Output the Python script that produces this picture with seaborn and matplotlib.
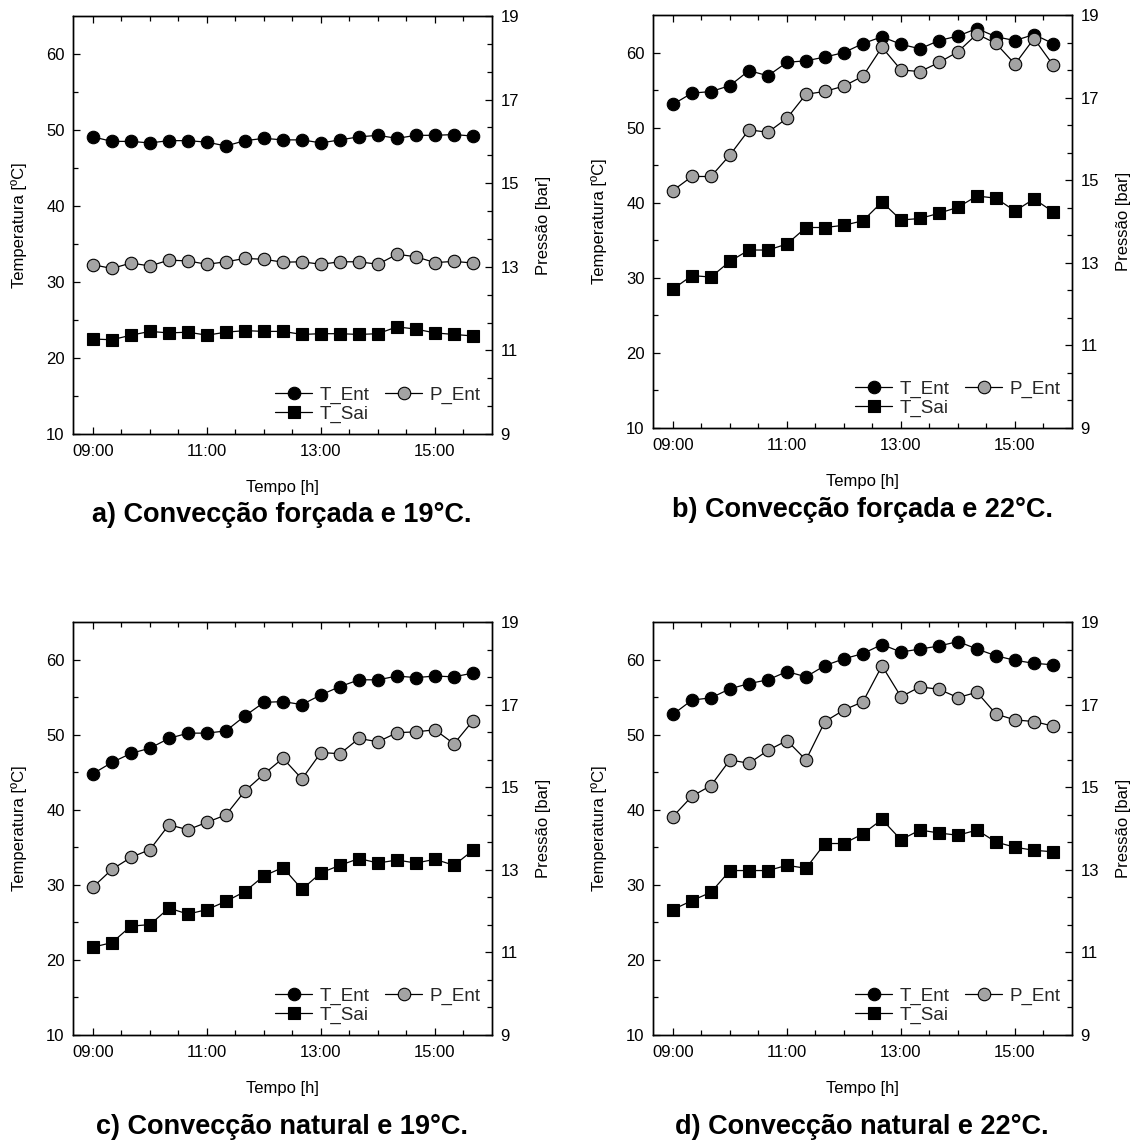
import matplotlib
matplotlib.use("Agg")
import matplotlib.pyplot as plt
import seaborn as sns
import pandas as pd
from matplotlib.ticker import FixedLocator, FuncFormatter

# ---------------- data ----------------
horarios = ["09:00", "09:20", "09:40", "10:00", "10:20", "10:40", "11:00",
            "11:20", "11:40", "12:00", "12:20", "12:40", "13:00", "13:20",
            "13:40", "14:00", "14:20", "14:40", "15:00", "15:20", "15:40"]

a_T_Ent = [49.1, 48.5, 48.5, 48.3, 48.6, 48.6, 48.4, 47.9, 48.6, 48.9, 48.7,
           48.7, 48.3, 48.7, 49.1, 49.3, 48.9, 49.3, 49.3, 49.4, 49.2]
a_T_Sai = [22.5, 22.4, 23.0, 23.5, 23.3, 23.4, 23.0, 23.4, 23.6, 23.5, 23.5,
           23.1, 23.2, 23.2, 23.1, 23.2, 24.1, 23.8, 23.3, 23.1, 22.9]
a_P_Ent = [13.05, 12.96, 13.09, 13.02, 13.16, 13.14, 13.06, 13.12, 13.20, 13.18, 13.11,
           13.12, 13.06, 13.12, 13.12, 13.06, 13.30, 13.24, 13.10, 13.13, 13.09]

b_T_Ent = [53.1, 54.6, 54.8, 55.6, 57.6, 56.9, 58.7, 58.9, 59.4, 60.0, 61.2,
           62.1, 61.1, 60.5, 61.6, 62.2, 63.2, 62.1, 61.6, 62.4, 61.2]
b_T_Sai = [28.5, 30.3, 30.1, 32.2, 33.7, 33.7, 34.5, 36.7, 36.7, 37.0, 37.6,
           40.1, 37.7, 37.9, 38.6, 39.4, 40.9, 40.6, 38.9, 40.5, 38.8]
b_P_Ent = [14.75, 15.09, 15.09, 15.61, 16.22, 16.16, 16.50, 17.08, 17.15, 17.28, 17.52,
           18.22, 17.67, 17.63, 17.85, 18.11, 18.54, 18.31, 17.81, 18.43, 17.79]

c_T_Ent = [44.8, 46.3, 47.5, 48.2, 49.5, 50.2, 50.2, 50.5, 52.5, 54.3, 54.4,
           54.0, 55.3, 56.4, 57.3, 57.3, 57.8, 57.6, 57.8, 57.7, 58.2]
c_T_Sai = [21.7, 22.3, 24.5, 24.7, 26.9, 26.1, 26.7, 27.8, 29.1, 31.2, 32.3,
           29.4, 31.6, 32.6, 33.5, 32.9, 33.3, 32.9, 33.4, 32.6, 34.6]
c_P_Ent = [12.58, 13.01, 13.30, 13.49, 14.09, 13.97, 14.15, 14.33, 14.91, 15.32, 15.70,
           15.20, 15.84, 15.81, 16.18, 16.10, 16.32, 16.34, 16.39, 16.05, 16.61]

d_T_Ent = [52.7, 54.6, 54.9, 56.1, 56.8, 57.3, 58.4, 57.7, 59.2, 60.1, 60.8,
           62.0, 61.0, 61.4, 61.8, 62.4, 61.4, 60.5, 59.9, 59.5, 59.3]
d_T_Sai = [26.7, 27.9, 29.0, 31.9, 31.9, 31.9, 32.6, 32.2, 35.5, 35.5, 36.8,
           38.7, 36.0, 37.3, 36.9, 36.6, 37.3, 35.7, 35.0, 34.6, 34.4]
d_P_Ent = [14.29, 14.78, 15.04, 15.66, 15.58, 15.89, 16.13, 15.66, 16.59, 16.87, 17.07,
           17.94, 17.19, 17.43, 17.37, 17.17, 17.30, 16.77, 16.63, 16.59, 16.48]

titulos = ["a) Convecção forçada e 19°C.", "b) Convecção forçada e 22°C.",
           "c) Convecção natural e 19°C.", "d) Convecção natural e 22°C."]

temp_ticks = [10, 20, 30, 40, 50, 60]
pres_ticks = [9, 11, 13, 15, 17, 19]
hora_ticks = ["09:00", "11:00", "13:00", "15:00"]

# ---------------- style ----------------
sns.set_theme(style="ticks")
plt.rcParams['font.family'] = ['Liberation Sans', 'DejaVu Sans']
plt.rcParams['axes.edgecolor'] = 'black'
plt.rcParams['axes.linewidth'] = 1.0

def to_h(s):
    hh, mm = s.split(":")
    return int(hh) + int(mm) / 60.0

x = [to_h(s) for s in horarios]

fig = plt.figure(figsize=(11.36, 11.40), dpi=100)
W, H = 1136.0, 1140.0
# pixel boxes: left, right, top, bottom
boxes = [(73, 492, 16, 434), (653, 1072, 15, 428),
         (73, 492, 622, 1035), (653, 1072, 622, 1035)]
title_pos = [(282, 522), (862, 517), (282, 1134), (862, 1134)]

series = [(a_T_Ent, a_T_Sai, a_P_Ent), (b_T_Ent, b_T_Sai, b_P_Ent),
          (c_T_Ent, c_T_Sai, c_P_Ent), (d_T_Ent, d_T_Sai, d_P_Ent)]

TICK_FS = 12
LABEL_FS = 12
LEG_FS = 13.5
TITLE_FS = 19.5
MS = 9
LW = 0.9
GRAY = '#a3a3a3'

for k, ((l, r, t, b), (te, ts, pe)) in enumerate(zip(boxes, series)):
    ax = fig.add_axes([l / W, 1 - b / H, (r - l) / W, (b - t) / H])
    df = pd.DataFrame({"hora": x, "T_Ent": te, "T_Sai": ts, "P_Ent": pe})
    sns.lineplot(data=df, x="hora", y="T_Ent", ax=ax, color='black', lw=LW,
                 marker='o', markersize=MS, markeredgecolor='black',
                 markeredgewidth=0.8, label="T_Ent")
    sns.lineplot(data=df, x="hora", y="T_Sai", ax=ax, color='black', lw=LW,
                 marker='s', markersize=MS - 0.3, markeredgecolor='black',
                 markeredgewidth=0.8, label="T_Sai")
    ax2 = ax.twinx()
    sns.lineplot(data=df, x="hora", y="P_Ent", ax=ax2, color='black', lw=LW,
                 marker='o', markersize=MS, markerfacecolor=GRAY,
                 markeredgecolor='black', markeredgewidth=0.8, label="P_Ent")

    ax.set_xlim(8.65, 16.0)
    ax.set_ylim(10, 65)
    ax2.set_ylim(9, 19)

    ax.xaxis.set_major_locator(FixedLocator([to_h(s) for s in hora_ticks]))
    ax.xaxis.set_major_formatter(FuncFormatter(lambda v, p: f"{int(round(v)):02d}:00"))
    ax.xaxis.set_minor_locator(FixedLocator([9 + 0.5 * i for i in range(14)]))
    ax.yaxis.set_major_locator(FixedLocator(temp_ticks))
    ax.yaxis.set_minor_locator(FixedLocator([15, 25, 35, 45, 55]))
    ax2.yaxis.set_major_locator(FixedLocator(pres_ticks))
    ax2.yaxis.set_minor_locator(FixedLocator([9 + 2 * i / 3 for i in range(16)]))

    ax.tick_params(axis='x', which='both', direction='in', top=True, bottom=True,
                   labelsize=TICK_FS, color='black', labelcolor='black', pad=7)
    ax.tick_params(axis='y', which='both', direction='in', left=True, right=False,
                   labelsize=TICK_FS, color='black', labelcolor='black', pad=6)
    ax2.tick_params(axis='y', which='both', direction='in', right=True, left=False,
                    labelsize=TICK_FS, color='black', labelcolor='black', pad=6)
    for a_ in (ax, ax2):
        a_.tick_params(which='major', length=5, width=0.9)
        a_.tick_params(which='minor', length=3.5, width=0.9)
        for sp in a_.spines.values():
            sp.set_color('black')
            sp.set_linewidth(1.0)

    ax.set_xlabel("Tempo [h]", fontsize=LABEL_FS, color='black')
    ax.set_ylabel("Temperatura [ºC]", fontsize=LABEL_FS, color='black')
    ax2.set_ylabel("Pressão [bar]", fontsize=LABEL_FS, color='black')
    hpx = b - t
    wpx = r - l
    ax.xaxis.set_label_coords(0.5, -46 / hpx)
    ax.yaxis.set_label_coords(-46 / wpx, 0.5)
    ax2.yaxis.set_label_coords(1 + 44 / wpx, 0.5)

    h1, l1 = ax.get_legend_handles_labels()
    h2, l2 = ax2.get_legend_handles_labels()
    if ax.get_legend() is not None:
        ax.get_legend().remove()
    if ax2.get_legend() is not None:
        ax2.get_legend().remove()
    ax2.legend(h1 + h2, l1 + l2, ncol=2, loc='lower right', frameon=False,
               fontsize=LEG_FS, handlelength=2.0, handletextpad=0.4,
               columnspacing=0.8, labelspacing=0.08, borderaxespad=0.2,
               borderpad=0.4)

    tx, ty = title_pos[k]
    fig.text(tx / W, 1 - ty / H, titulos[k], ha='center', va='baseline',
             fontsize=TITLE_FS, fontweight='bold', color='black')

fig.savefig("out.png", dpi=100)
